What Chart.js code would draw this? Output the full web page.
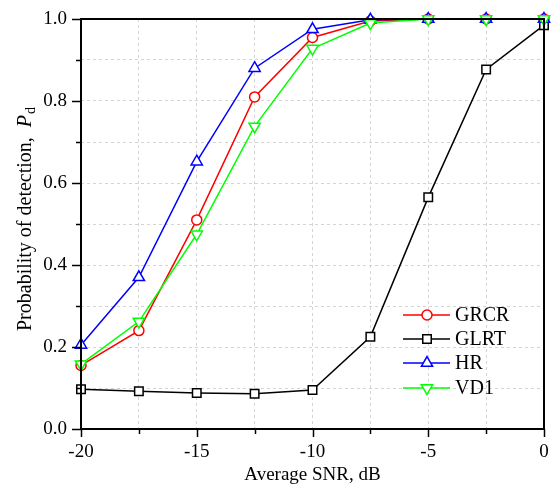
<!DOCTYPE html>
<html>
<head>
<meta charset="utf-8">
<script src="https://cdn.jsdelivr.net/npm/chart.js@4"></script>
<style>
html,body{margin:0;padding:0;background:#fff;}
#wrap{width:553px;height:487px;}
</style>
</head>
<body>
<div id="wrap"><canvas id="c" width="553" height="487"></canvas></div>
<script>
const snr = [-20, -17.5, -15, -12.5, -10, -7.5, -5, -2.5, 0];
const grcr = [0.155, 0.240, 0.510, 0.810, 0.955, 0.995, 1.0, 1.0, 1.0];
const glrt = [0.097, 0.092, 0.088, 0.086, 0.095, 0.225, 0.565, 0.877, 0.985];
const hr   = [0.205, 0.370, 0.652, 0.880, 0.975, 0.998, 1.0, 1.0, 1.0];
const vd1  = [0.158, 0.262, 0.475, 0.738, 0.928, 0.990, 1.0, 1.0, 1.0];
const seriesNames = ['GRCR', 'GLRT', 'HR', 'VD1'];
const xTickLabels = [-20, -15, -10, -5, 0];
const yTickLabels = [0.0, 0.2, 0.4, 0.6, 0.8, 1.0];
const xTitle = 'Average SNR, dB';
const yTitle = 'Probability of detection,  ';

const FONT = '"Liberation Serif", "Times New Roman", serif';

function mk(name, vals, color, style, radius, rot) {
  return {
    label: name,
    data: snr.map((x, i) => ({x: x, y: vals[i]})),
    borderColor: color,
    backgroundColor: color,
    borderWidth: 1.5,
    pointStyle: style,
    pointRadius: radius,
    pointRotation: rot || 0,
    pointBackgroundColor: '#fff',
    pointBorderColor: color,
    pointBorderWidth: 1.5,
    tension: 0,
    clip: false
  };
}

const datasets = [
  mk(seriesNames[0], grcr, '#ff0000', 'circle', 5),
  mk(seriesNames[1], glrt, '#000000', 'rect', 6),
  mk(seriesNames[2], hr, '#0000ff', 'triangle', 6.5),
  mk(seriesNames[3], vd1, '#00ff00', 'triangle', 6.5, 180)
];
datasets.forEach((d, i) => d.order = datasets.length - i);

const decor = {
  id: 'decor',
  afterDraw(chart) {
    const ctx = chart.ctx;
    const a = chart.chartArea;
    const xs = chart.scales.x, ys = chart.scales.y;
    ctx.save();
    ctx.strokeStyle = '#000';
    ctx.lineWidth = 2;
    ctx.strokeRect(a.left, a.top, a.right - a.left, a.bottom - a.top);
    ctx.lineWidth = 1.5;
    for (let v = -20; v <= 0.001; v += 2.5) {
      const px = Math.round(xs.getPixelForValue(v)) + 0.5;
      const major = xTickLabels.some(t => Math.abs(t - v) < 1e-6);
      ctx.beginPath();
      ctx.moveTo(px, a.bottom);
      ctx.lineTo(px, a.bottom + (major ? 8 : 5));
      ctx.stroke();
    }
    for (let k = 0; k <= 10; k++) {
      const v = k / 10;
      const py = Math.round(ys.getPixelForValue(v)) + 0.5;
      const major = k % 2 === 0;
      ctx.beginPath();
      ctx.moveTo(a.left, py);
      ctx.lineTo(a.left - (major ? 9 : 5), py);
      ctx.stroke();
    }
    ctx.fillStyle = '#000';
    ctx.font = '19px ' + FONT;
    ctx.textAlign = 'center';
    ctx.textBaseline = 'middle';
    ctx.fillText(xTitle, (a.left + a.right) / 2, 475);
    ctx.save();
    ctx.translate(25, 219);
    ctx.rotate(-Math.PI / 2);
    ctx.font = '20px ' + FONT;
    const w1 = ctx.measureText(yTitle).width;
    ctx.font = 'italic 20px ' + FONT;
    const w2 = ctx.measureText('P').width;
    ctx.font = '14px ' + FONT;
    const w3 = ctx.measureText('d').width;
    const total = w1 + w2 + w3 + 1;
    let x0 = -total / 2;
    ctx.textAlign = 'left';
    ctx.textBaseline = 'alphabetic';
    ctx.font = '20px ' + FONT;
    ctx.fillText(yTitle, x0, 6);
    ctx.font = 'italic 20px ' + FONT;
    ctx.fillText('P', x0 + w1, 6);
    ctx.font = '14px ' + FONT;
    ctx.fillText('d', x0 + w1 + w2 + 1, 10);
    ctx.restore();
    const rows = [315, 339, 363, 388];
    datasets.forEach((d, i) => {
      const y = rows[i];
      ctx.strokeStyle = d.borderColor;
      ctx.lineWidth = 1.5;
      ctx.beginPath();
      ctx.moveTo(403, y);
      ctx.lineTo(450, y);
      ctx.stroke();
      ctx.fillStyle = '#fff';
      Chart.helpers.drawPoint(ctx, {pointStyle: d.pointStyle, rotation: d.pointRotation, radius: d.pointRadius, borderWidth: 1.5}, 427, y);
      ctx.fillStyle = '#000';
      ctx.font = '20px ' + FONT;
      ctx.textAlign = 'left';
      ctx.textBaseline = 'middle';
      ctx.fillText(d.label, 455, y + 1);
    });
    ctx.restore();
  }
};

function zeroPad(s) { s.paddingTop = 0; s.paddingBottom = 0; s.paddingLeft = 0; s.paddingRight = 0; }

new Chart(document.getElementById('c'), {
  type: 'line',
  data: {datasets: datasets},
  options: {
    responsive: false,
    animation: false,
    events: [],
    layout: {padding: {top: 19, right: 9, left: 0, bottom: 0}},
    plugins: {legend: {display: false}, tooltip: {enabled: false}},
    scales: {
      x: {
        type: 'linear', min: -20, max: 0,
        afterFit: s => { s.height = 58; zeroPad(s); },
        afterBuildTicks: s => { s.ticks = snr.map(v => ({value: v})); },
        ticks: {
          autoSkip: false,
          maxRotation: 0,
          color: '#000',
          font: {family: FONT, size: 19},
          padding: 12,
          callback: v => xTickLabels.some(t => Math.abs(t - v) < 1e-6) ? String(v) : ''
        },
        grid: {color: '#d4d4d4', lineWidth: 1, drawTicks: false},
        border: {display: false, dash: [3, 3]}
      },
      y: {
        min: 0, max: 1,
        afterFit: s => { s.width = 81; zeroPad(s); },
        afterBuildTicks: s => { const t = []; for (let k = 0; k <= 10; k++) t.push({value: k / 10}); s.ticks = t; },
        ticks: {
          autoSkip: false,
          color: '#000',
          font: {family: FONT, size: 19},
          padding: 14,
          callback: v => { const k = Math.round(v * 10); return k % 2 === 0 ? (k / 10).toFixed(1) : ''; }
        },
        grid: {color: '#d4d4d4', lineWidth: 1, drawTicks: false},
        border: {display: false, dash: [3, 3]}
      }
    }
  },
  plugins: [decor]
});
</script>
</body>
</html>
